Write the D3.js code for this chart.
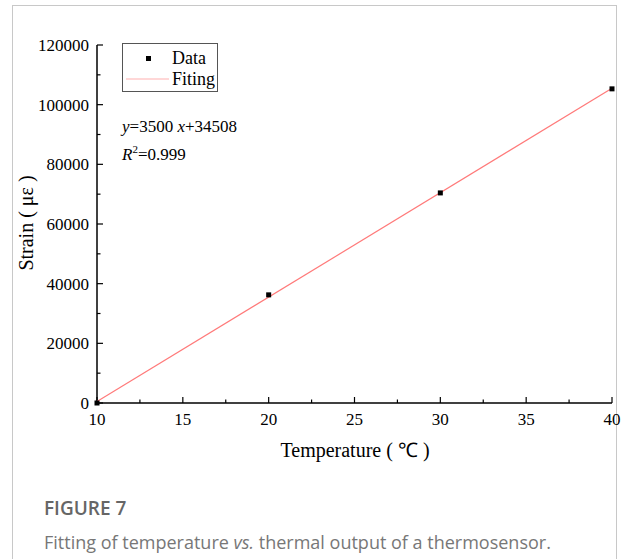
<!DOCTYPE html>
<html><head><meta charset="utf-8">
<script src="https://cdn.jsdelivr.net/npm/d3@7"></script>
<style>
body{margin:0;background:#fff;}
svg{display:block;}
</style></head>
<body>
<script>
const temperature = [10, 20, 30, 40];
const strain = [0, 36250, 70420, 105300];
const fitSlope = 3500;
const fitIntercept = -34508;
const xTicks = [10, 15, 20, 25, 30, 35, 40];
const yTicks = [0, 20000, 40000, 60000, 80000, 100000, 120000];

const W = 628, H = 559;
const svg = d3.select("body").append("svg").attr("width", W).attr("height", H);

// outer frame
svg.append("rect").attr("x", 12.5).attr("y", 5.5).attr("width", 604).attr("height", 560)
  .attr("fill", "none").attr("stroke", "#c8c8c8").attr("stroke-width", 1);

const x = d3.scaleLinear().domain([10, 40]).range([97, 612]);
const y = d3.scaleLinear().domain([0, 120000]).range([403, 45]);
const serif = "'Liberation Serif', 'Times New Roman', serif";

// x axis
const gx = svg.append("g").attr("transform", "translate(0,403)");
gx.append("line").attr("x1", x(10)).attr("x2", x(40)).attr("stroke", "#000").attr("stroke-width", 1.5);
const xMinor = d3.range(12.5, 40, 5);
gx.selectAll(".xt").data(xTicks).join("line").attr("class", "xt").attr("x1", d => x(d)).attr("x2", d => x(d))
  .attr("y1", 0).attr("y2", -6).attr("stroke", "#000").attr("stroke-width", 1.2);
gx.selectAll(".xm").data(xMinor).join("line").attr("class", "xm").attr("x1", d => x(d)).attr("x2", d => x(d))
  .attr("y1", 0).attr("y2", -3.5).attr("stroke", "#000").attr("stroke-width", 1.2);
gx.selectAll(".xl").data(xTicks).join("text").attr("class", "xl").attr("x", d => x(d)).attr("y", 22)
  .attr("text-anchor", "middle").attr("font-family", serif).attr("font-size", 17).text(d => d);

// y axis
const gy = svg.append("g").attr("transform", "translate(97,0)");
gy.append("line").attr("y1", y(0)).attr("y2", y(120000)).attr("stroke", "#000").attr("stroke-width", 1.5);
const yMinor = d3.range(10000, 120000, 20000);
gy.selectAll(".yt").data(yTicks).join("line").attr("class", "yt").attr("y1", d => y(d)).attr("y2", d => y(d))
  .attr("x1", 0).attr("x2", 6).attr("stroke", "#000").attr("stroke-width", 1.2);
gy.selectAll(".ym").data(yMinor).join("line").attr("class", "ym").attr("y1", d => y(d)).attr("y2", d => y(d))
  .attr("x1", 0).attr("x2", 3.5).attr("stroke", "#000").attr("stroke-width", 1.2);
gy.selectAll(".yl").data(yTicks).join("text").attr("class", "yl").attr("x", -8).attr("y", d => y(d)).attr("dy", "0.35em")
  .attr("text-anchor", "end").attr("font-family", serif).attr("font-size", 17).text(d => d);

// axis titles
svg.append("text").attr("x", 355).attr("y", 457).attr("text-anchor", "middle")
  .attr("font-family", serif).attr("font-size", 20).text("Temperature ( \u2103 )");
svg.append("text").attr("transform", "translate(33,223) rotate(-90)").attr("text-anchor", "middle")
  .attr("font-family", serif).attr("font-size", 20).text("Strain ( \u03bc\u03b5 )");

// fit line
const line = d3.line().x(d => x(d)).y(d => y(fitSlope * d + fitIntercept));
svg.append("path").datum([10, 40]).attr("d", line).attr("fill", "none")
  .attr("stroke", "#ff7a7a").attr("stroke-width", 1.2);

// data points
svg.selectAll(".pt").data(temperature).join("rect").attr("class", "pt")
  .attr("x", (d) => x(d) - 2.5).attr("y", (d, i) => y(strain[i]) - 2.5)
  .attr("width", 5).attr("height", 5).attr("fill", "#000");

// legend
const lg = svg.append("g");
lg.append("rect").attr("x", 122.5).attr("y", 43.5).attr("width", 95).attr("height", 48)
  .attr("fill", "#fff").attr("stroke", "#555").attr("stroke-width", 1);
lg.append("rect").attr("x", 146).attr("y", 56).attr("width", 5).attr("height", 5).attr("fill", "#000");
lg.append("text").attr("x", 172).attr("y", 64).attr("font-family", serif).attr("font-size", 18).text("Data");
lg.append("line").attr("x1", 126).attr("x2", 169).attr("y1", 79).attr("y2", 79)
  .attr("stroke", "#ffb0b0").attr("stroke-width", 1.2);
lg.append("text").attr("x", 172).attr("y", 85).attr("font-family", serif).attr("font-size", 18).text("Fiting");

// equation
const eq = svg.append("text").attr("x", 122).attr("y", 132).attr("font-family", serif).attr("font-size", 17);
eq.append("tspan").attr("font-style", "italic").text("y");
eq.append("tspan").text("=3500 ");
eq.append("tspan").attr("font-style", "italic").text("x");
eq.append("tspan").text("+34508");
const r2 = svg.append("text").attr("x", 122).attr("y", 160).attr("font-family", serif).attr("font-size", 17);
r2.append("tspan").attr("font-style", "italic").text("R");
r2.append("tspan").attr("font-size", 11).attr("dy", -7).text("2");
r2.append("tspan").attr("dy", 7).text("=0.999");

// caption
svg.append("text").attr("x", 44).attr("y", 515).attr("font-family", "'Open Sans', sans-serif")
  .attr("font-size", 19).attr("font-weight", 600).attr("fill", "#666").text("FIGURE 7");
const cap = svg.append("text").attr("x", 44).attr("y", 549).attr("font-family", "'Open Sans', sans-serif")
  .attr("font-size", 18).attr("fill", "#777");
cap.append("tspan").text("Fitting of temperature ");
cap.append("tspan").attr("font-style", "italic").text("vs.");
cap.append("tspan").text(" thermal output of a thermosensor.");
</script>
</body></html>
